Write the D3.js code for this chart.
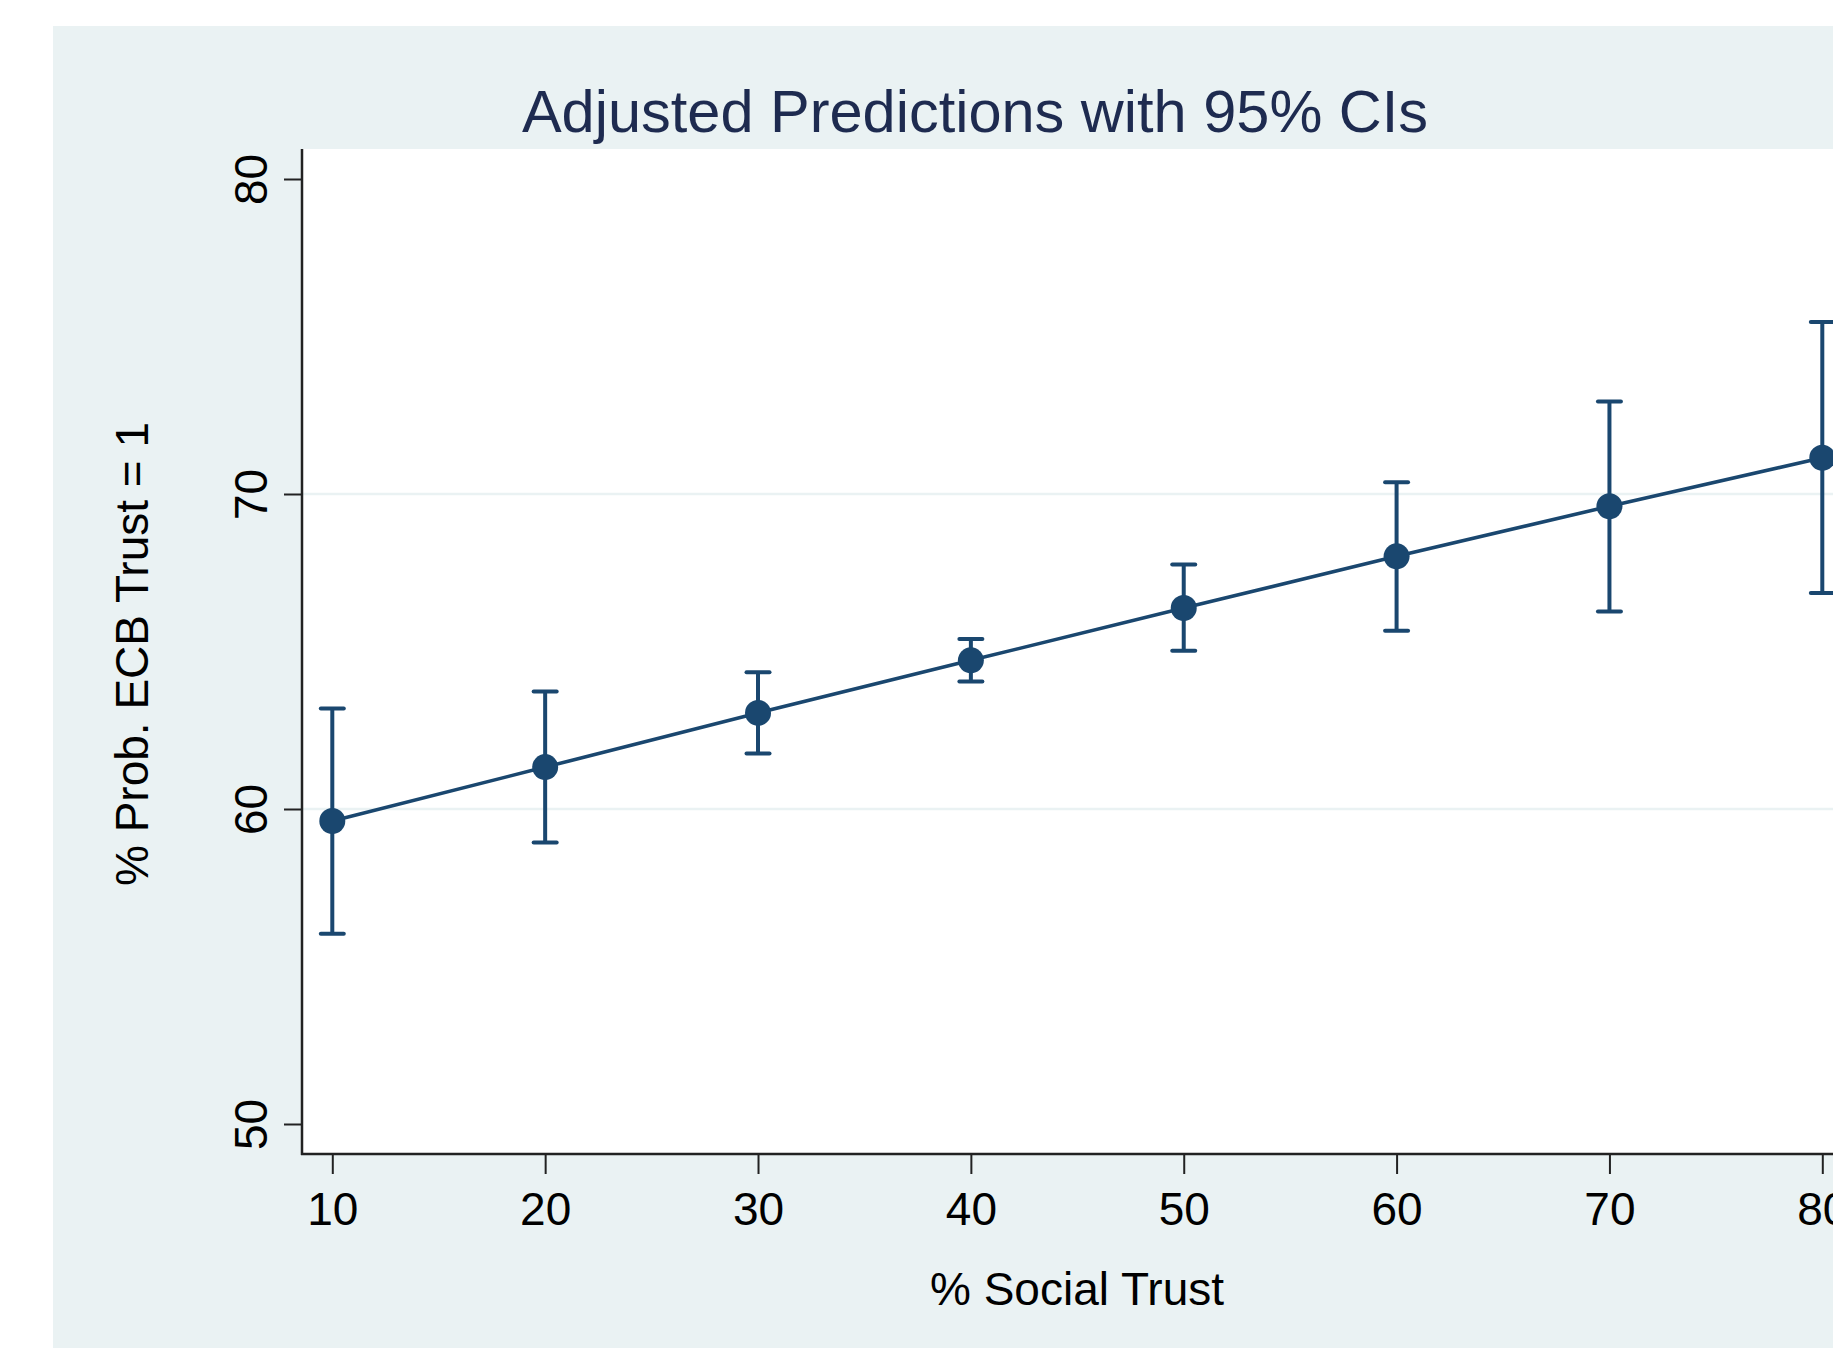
<!DOCTYPE html>
<html>
<head>
<meta charset="utf-8">
<script src="https://cdn.jsdelivr.net/npm/d3@7"></script>
<style>
  html, body { margin: 0; padding: 0; background: #fff; }
  svg { display: block; font-family: "Liberation Sans", Arial, sans-serif; }
</style>
</head>
<body>
<svg id="chart" width="1833" height="1348"></svg>
<script>
// values
const socialTrust = [10, 20, 30, 40, 50, 60, 70, 80];
const predicted = [59.62, 61.33, 63.05, 64.72, 66.38, 68.02, 69.61, 71.15];
const ciLow = [56.04, 58.94, 61.76, 64.05, 65.02, 65.66, 66.27, 66.86];
const ciHigh = [63.19, 63.73, 64.34, 65.40, 67.76, 70.37, 72.94, 75.46];
const xTicks = [10, 20, 30, 40, 50, 60, 70, 80];
const yTicks = [50, 60, 70, 80];
const yGrid = [60, 70];

const navy = '#1a476f';
const bg = '#eaf2f3';

const svg = d3.select('#chart');
const W = +svg.attr('width');
const H = +svg.attr('height');

// outer (graph) region
svg.append('rect').attr('x', 53).attr('y', 26).attr('width', W - 53).attr('height', H - 26).attr('fill', bg);

const plot = { left: 302, top: 149, bottom: 1154, right: W + 40 };
const x = d3.scaleLinear().domain([10, 80]).range([332.3, 1822.3]);
const y = d3.scaleLinear().domain([50, 80]).range([1124, 179]);

svg.append('rect')
  .attr('x', plot.left).attr('y', plot.top)
  .attr('width', plot.right - plot.left).attr('height', plot.bottom - plot.top)
  .attr('fill', '#fff');

svg.append('g').selectAll('line').data(yGrid).join('line')
  .attr('x1', plot.left).attr('x2', plot.right)
  .attr('y1', d => y(d)).attr('y2', d => y(d))
  .attr('stroke', bg).attr('stroke-width', 2.5);

// axes
const xAxis = svg.append('g')
  .attr('transform', `translate(0,${plot.bottom})`)
  .call(d3.axisBottom(x).tickValues(xTicks).tickSize(20).tickPadding(18).tickFormat(d3.format('d')));
xAxis.select('.domain').remove();
xAxis.selectAll('.tick line').attr('stroke', '#222').attr('stroke-width', 2);
xAxis.selectAll('.tick text').attr('font-size', 46).attr('fill', '#000');

const yAxis = svg.append('g')
  .attr('transform', `translate(${plot.left},0)`)
  .call(d3.axisLeft(y).tickValues(yTicks).tickSize(18).tickFormat(d3.format('d')));
yAxis.select('.domain').remove();
yAxis.selectAll('.tick line').attr('stroke', '#222').attr('stroke-width', 2);
yAxis.selectAll('.tick text')
  .attr('font-size', 46).attr('fill', '#000')
  .attr('x', null).attr('dy', null)
  .attr('text-anchor', 'middle')
  .attr('transform', 'translate(-35,0) rotate(-90)');

svg.append('line')
  .attr('x1', plot.left).attr('x2', plot.left)
  .attr('y1', plot.top).attr('y2', plot.bottom + 1)
  .attr('stroke', '#222').attr('stroke-width', 2.5);
svg.append('line')
  .attr('x1', plot.left - 1).attr('x2', plot.right)
  .attr('y1', plot.bottom).attr('y2', plot.bottom)
  .attr('stroke', '#222').attr('stroke-width', 2.5);

// error bars
const bars = svg.append('g').attr('stroke', navy).attr('stroke-width', 4);
socialTrust.forEach((v, i) => {
  bars.append('line').attr('x1', x(v)).attr('x2', x(v)).attr('y1', y(ciLow[i])).attr('y2', y(ciHigh[i]));
  [ciLow[i], ciHigh[i]].forEach(c => {
    bars.append('line').attr('x1', x(v) - 11.5).attr('x2', x(v) + 11.5).attr('y1', y(c)).attr('y2', y(c))
      .attr('stroke-linecap', 'round');
  });
});

const line = d3.line().x((d, i) => x(socialTrust[i])).y(d => y(d));
svg.append('path').datum(predicted)
  .attr('d', line).attr('fill', 'none').attr('stroke', navy).attr('stroke-width', 3.6);

svg.append('g').selectAll('circle').data(predicted).join('circle')
  .attr('cx', (d, i) => x(socialTrust[i])).attr('cy', d => y(d))
  .attr('r', 13).attr('fill', navy);

// titles
svg.append('text').attr('x', 975).attr('y', 132).attr('text-anchor', 'middle')
  .attr('font-size', 59.5).attr('fill', '#1e2b50').text('Adjusted Predictions with 95% CIs');

svg.append('text').attr('x', 1077).attr('y', 1305).attr('text-anchor', 'middle')
  .attr('font-size', 46).attr('fill', '#000').text('% Social Trust');

svg.append('text').attr('transform', 'translate(148,654) rotate(-90)').attr('text-anchor', 'middle')
  .attr('font-size', 46).attr('fill', '#000').text('% Prob. ECB Trust = 1');
</script>
</body>
</html>
